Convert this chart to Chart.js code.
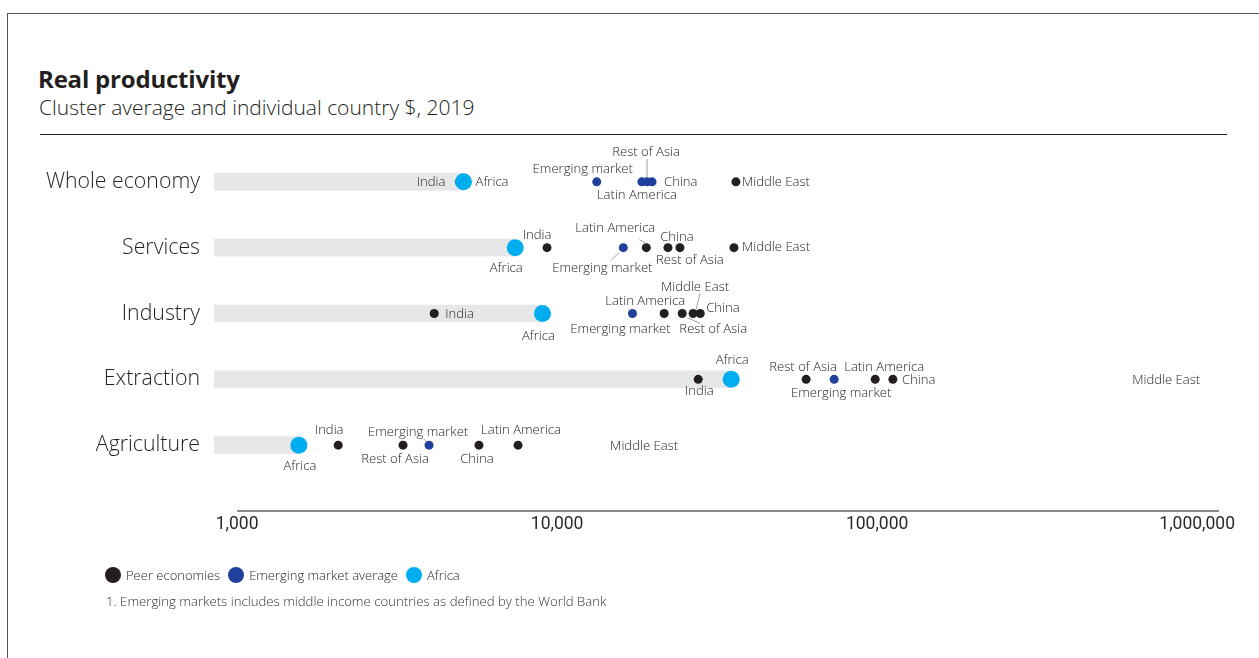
<!DOCTYPE html>
<html>
<head>
<meta charset="utf-8">
<script src="https://cdn.jsdelivr.net/npm/chart.js@4.4.1/dist/chart.umd.min.js"></script>
<style>
  body { margin: 0; width: 1259px; height: 658px; background: #fff; overflow: hidden; position: relative;
         font-family: "Open Sans", Lato, sans-serif; color: #231f20; }
  #frame { position: absolute; left: 7px; top: 13px; width: 1400px; height: 800px;
           border-left: 1px solid #555; border-top: 1px solid #555; }
  #title { position: absolute; left: 38px; top: 62px; font-size: 24px; font-weight: 700; letter-spacing: -0.2px; }
  #subtitle { position: absolute; left: 39px; top: 93px; font-size: 21px; font-weight: 300; }
  #rule { position: absolute; left: 40px; top: 134px; width: 1187px; border-top: 1.5px solid #231f20; }
  #chart { position: absolute; left: 0; top: 0; }
  #legend { position: absolute; left: 105px; top: 566px; font-size: 13px; font-weight: 300; display: flex; align-items: center; }
  #legend .sw { display: inline-block; width: 16px; height: 16px; border-radius: 50%; margin-right: 5px; }
  #legend .item { display: flex; align-items: center; margin-right: 8px; }
  #note { position: absolute; left: 106px; top: 592px; font-size: 13.2px; font-weight: 300; color: #333; }
</style>
</head>
<body>
<div id="frame"></div>
<div id="title">Real productivity</div>
<div id="subtitle">Cluster average and individual country $, 2019</div>
<div id="rule"></div>
<canvas id="chart" width="1259" height="658"></canvas>
<div id="legend">
  <span class="item"><span class="sw" style="background:#231f20"></span>Peer economies</span>
  <span class="item"><span class="sw" style="background:#1f409c"></span>Emerging market average</span>
  <span class="item"><span class="sw" style="background:#00aeef"></span>Africa</span>
</div>
<div id="note">1. Emerging markets includes middle income countries as defined by the World Bank</div>

<script>
const categories = ['Whole economy', 'Services', 'Industry', 'Extraction', 'Agriculture'];
const tickValues = [1000, 10000, 100000, 1000000];

const africa       = [5100, 7400, 9000, 35000, 1560];
const emerging     = [13300, 16100, 17200, 73400, 3980];
const india        = [4950, 9300, 4130, 27600, 2070];
const china        = [19800, 22200, 28000, 112000, 5700];
const latinAmerica = [18400, 19000, 21600, 98600, 7550];
const restOfAsia   = [19100, 24200, 24600, 60000, 3300];
const middleEast   = [36200, 35700, 26600, 800000, 18700];

const peers = { 'India': india, 'China': china, 'Latin America': latinAmerica,
                'Rest of Asia': restOfAsia, 'Middle East': middleEast };

const black = '#231f20', blue = '#1f409c', cyan = '#00aeef';

// labels that have no dot in the original
const noDot = ['3|Middle East', '4|Middle East'];
// peers drawn in blue on the whole economy row
const blueOnTop = ['Latin America', 'Rest of Asia', 'China'];

// label placement: [align, dx, dy, leader line]
const labelLayout = [
  { 'India': ['right', -14, 0], 'Africa': ['left', 12, 0], 'Emerging market': ['center', -14, -13],
    'Rest of Asia': ['center', -1, -30, [0, -23, 0, -5]], 'Latin America': ['center', -5, 13],
    'China': ['left', 12, 0], 'Middle East': ['left', 6, 0] },
  { 'India': ['center', -10, -12], 'Africa': ['center', -9, 21], 'Emerging market': ['center', -21, 21, [-12, 12, -4, 5]],
    'Latin America': ['center', -31, -19, [-7, -8, -1, -5]], 'China': ['center', 9, -10],
    'Rest of Asia': ['center', 10, 13], 'Middle East': ['left', 8, 0] },
  { 'India': ['left', 11, 1], 'Africa': ['center', -4, 23], 'Emerging market': ['center', -12, 16],
    'Latin America': ['center', -19, -12], 'Middle East': ['center', 2, -26, [7, -20, 3, -4]],
    'Rest of Asia': ['center', 31, 16, [5, 4, 18, 10]], 'China': ['left', 6, -5] },
  { 'India': ['center', 1, 12], 'Africa': ['center', 1, -19], 'Rest of Asia': ['center', -3, -12],
    'Emerging market': ['center', 7, 14], 'Latin America': ['center', 9, -12], 'China': ['left', 9, 1],
    'Middle East': ['center', 0, 1] },
  { 'Africa': ['center', 1, 21], 'India': ['center', -9, -15], 'Rest of Asia': ['center', -8, 14],
    'Emerging market': ['center', -11, -13, [-5, -6, -2, -3]], 'China': ['center', -2, 14],
    'Latin America': ['center', 3, -15], 'Middle East': ['center', 0, 1] }
];

const peerPoints = [];
Object.keys(peers).forEach(name => {
  peers[name].forEach((v, i) => peerPoints.push({ x: v, y: i, name: name }));
});

const labelPlugin = {
  id: 'pointLabels',
  beforeDatasetsDraw(chart) {
    const c = chart.ctx, xs = chart.scales.x, area = chart.chartArea;
    c.save();
    c.strokeStyle = '#8a8a8a';
    c.lineWidth = 2;
    c.beginPath();
    c.moveTo(xs.getPixelForValue(tickValues[0]), area.bottom);
    c.lineTo(area.right, area.bottom);
    c.stroke();
    c.restore();
  },
  afterDatasetsDraw(chart) {
    const c = chart.ctx;
    c.save();
    c.font = '300 13.1px "Open Sans"';
    c.fillStyle = '#262626';
    c.textBaseline = 'middle';
    chart.data.datasets.forEach((ds, di) => {
      if (ds.type !== 'scatter') return;
      chart.getDatasetMeta(di).data.forEach((pt, j) => {
        const raw = ds.data[j];
        const lay = labelLayout[raw.y][raw.name];
        if (!lay) return;
        const [align, dx, dy, leader] = lay;
        if (leader) {
          c.strokeStyle = '#888';
          c.lineWidth = 0.8;
          c.beginPath();
          c.moveTo(pt.x + leader[0], pt.y + leader[1]);
          c.lineTo(pt.x + leader[2], pt.y + leader[3]);
          c.stroke();
        }
        c.textAlign = align;
        c.fillText(raw.name, pt.x + dx, pt.y + dy);
      });
    });
    c.restore();
  }
};

new Chart(document.getElementById('chart'), {
  data: {
    datasets: [
      {
        type: 'bar', indexAxis: 'y', order: 10,
        data: categories.map((c, i) => ({ x: [847, africa[i]], y: i })),
        backgroundColor: '#e6e7e8', barThickness: 17
      },
      {
        type: 'scatter', label: 'Peer economies', order: 2,
        data: peerPoints,
        pointRadius: ctx => noDot.includes(ctx.raw.y + '|' + ctx.raw.name) ? 0 : 4.5,
        backgroundColor: ctx => (ctx.raw.y === 0 && blueOnTop.includes(ctx.raw.name)) ? blue : black,
        borderWidth: 0
      },
      {
        type: 'scatter', label: 'Emerging market average', order: 1,
        data: emerging.map((v, i) => ({ x: v, y: i, name: 'Emerging market' })),
        pointRadius: 4.5, backgroundColor: blue, borderWidth: 0
      },
      {
        type: 'scatter', label: 'Africa', order: 0,
        data: africa.map((v, i) => ({ x: v, y: i, name: 'Africa' })),
        pointRadius: 8.5, backgroundColor: cyan, borderWidth: 0
      }
    ]
  },
  options: {
    responsive: false,
    animation: false,
    layout: { padding: { top: 116, right: 40, bottom: 117, left: 0 } },
    plugins: { legend: { display: false }, tooltip: { enabled: false } },
    scales: {
      x: {
        type: 'logarithmic', min: 847, max: 1170000, offset: false,
        afterBuildTicks: s => { s.ticks = tickValues.map(v => ({ value: v })); },
        afterFit: s => { s.height = 30; },
        ticks: {
          callback: v => Number(v).toLocaleString('en-US'),
          font: { family: 'Liberation Sans Narrow, Roboto', size: 17.5 },
          color: '#2a2a2a', padding: 3, maxRotation: 0, autoSkip: false
        },
        grid: { display: false, drawTicks: false },
        border: { display: false }
      },
      y: {
        type: 'linear', reverse: true, min: -1, max: 5, offset: false,
        afterBuildTicks: s => { s.ticks = categories.map((c, i) => ({ value: i })); },
        afterFit: s => { s.width = 214; },
        ticks: {
          callback: v => categories[v],
          font: { family: 'Open Sans', size: 21.3, weight: 300 },
          color: '#231f20', padding: 14
        },
        grid: { display: false, drawTicks: false, offset: false },
        border: { display: false }
      }
    }
  },
  plugins: [labelPlugin]
});
</script>
</body>
</html>
